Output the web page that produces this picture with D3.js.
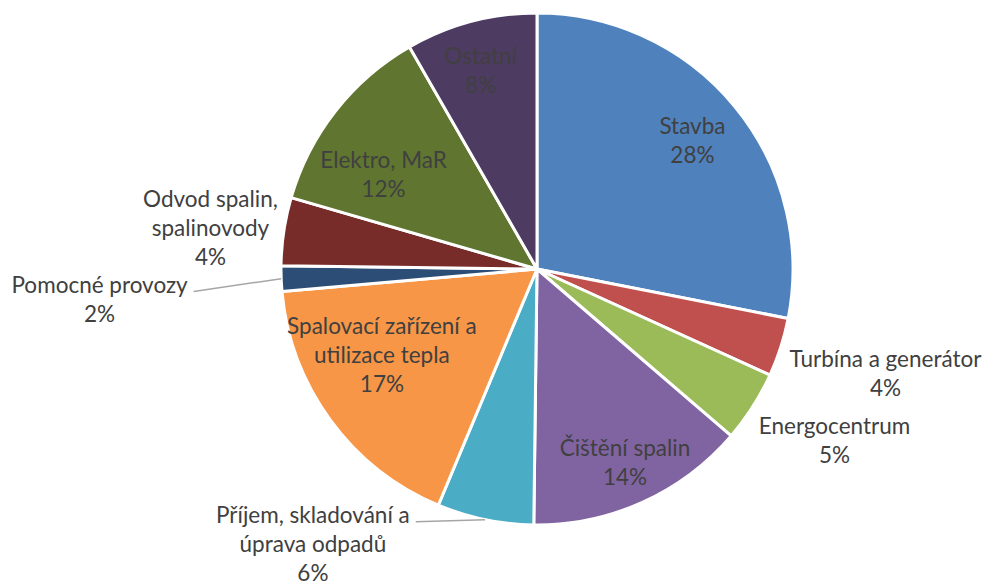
<!doctype html>
<html lang="cs">
<head>
  <meta charset="utf-8">
  <title>Struktura nákladů</title>
  <script src="https://cdn.jsdelivr.net/npm/d3@7/dist/d3.min.js"></script>
  <style type="text/css">
    body {
      margin: 0;
      background-color: #ffffff;
    }
    .label {
      font-family: "Lato", "DejaVu Sans", sans-serif;
      font-size: 22.5px;
      fill: #404040;
    }
    .leader {
      stroke: #a6a6a6;
      stroke-width: 1.5px;
      fill: none;
    }
  </style>
</head>
<body>
  <div id="container"></div>

<script type="text/javascript">

  // Slices, clockwise from 12 o'clock
  var categories = [
    "Stavba",
    "Turbína a generátor",
    "Energocentrum",
    "Čištění spalin",
    "Příjem, skladování a\núprava odpadů",
    "Spalovací zařízení a\nutilizace tepla",
    "Pomocné provozy",
    "Odvod spalin,\nspalinovody",
    "Elektro, MaR",
    "Ostatní"
  ];
  var values = [28.1, 3.7, 4.5, 13.9, 6.1, 17.3, 1.6, 4.3, 12.2, 8.3];
  var colors = ["#4f81bd", "#c0504d", "#9bbb59", "#8064a2", "#4bacc6",
                "#f79646", "#2c4d75", "#772c2a", "#5f7530", "#4d3b62"];

  // Label placement: angle nudge from slice middle (deg), distance as share of radius
  var labelNudge = [0, -1, -2.5, 0, 27.4, 7, -1.9, -1.5, -6.8, -1];
  var labelDist = [0.786, 1.422, 1.343, 0.835, 1.388, 0.694, 1.713, 1.285, 0.702, 0.802];
  var hasLeader = [false, false, false, false, true, false, true, false, false, false];

  var width = 986, height = 585;
  var cx = 537, cy = 269, radius = 256;
  var lineH = 29;

  var svg = d3.select("#container")
              .append("svg")
              .attr("width", width)
              .attr("height", height);

  var g = svg.append("g")
    .attr("transform", "translate(" + cx + "," + cy + ")");

  var pie = d3.pie().sort(null).value(function(d) { return d; });
  var arcs = pie(values);
  var total = d3.sum(values);

  var arc = d3.arc().innerRadius(0).outerRadius(radius);

  // Slices
  g.selectAll(".slice")
    .data(arcs)
    .enter()
    .append("path")
    .attr("class", "slice")
    .attr("d", arc)
    .attr("fill", function(d, i) { return colors[i]; })
    .attr("stroke", "#ffffff")
    .attr("stroke-width", 3)
    .attr("stroke-linejoin", "round");

  function polar(a, r) {
    return [Math.sin(a) * r, -Math.cos(a) * r];
  }

  // Labels
  arcs.forEach(function(d, i) {
    var mid = (d.startAngle + d.endAngle) / 2;
    var p = polar(mid + labelNudge[i] * Math.PI / 180, labelDist[i] * radius);
    var lines = categories[i].split("\n");
    lines.push(Math.round(d.value / total * 100) + "%");

    var t = g.append("text")
      .attr("class", "label")
      .attr("text-anchor", "middle");
    var top = p[1] - (lines.length - 1) / 2 * lineH + 7;
    lines.forEach(function(s, k) {
      t.append("tspan")
        .attr("x", p[0])
        .attr("y", top + k * lineH)
        .text(s);
    });

    // Leader from the first line to the slice edge
    if (hasLeader[i]) {
      var w = t.select("tspan").node().getComputedTextLength();
      var edge = polar(mid, radius);
      g.append("line")
        .attr("class", "leader")
        .attr("x1", p[0] + w / 2 + 6)
        .attr("y1", top - 1)
        .attr("x2", edge[0])
        .attr("y2", edge[1]);
    }
  });

</script>
</body>
</html>
